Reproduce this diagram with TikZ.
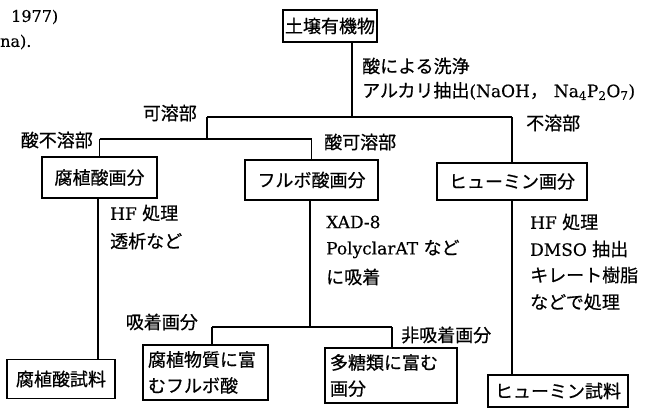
\documentclass[tikz,border=0pt]{standalone}
\usepackage{fontspec}
\setmainfont{DejaVu Serif}[FakeBold=0.4]
\newfontfamily\jp{Noto Sans CJK JP}[FakeBold=0.6]
\newcommand{\jps}{\jp\fontsize{18}{20}\selectfont}
\begin{document}
\begin{tikzpicture}[x=1pt,y=-1pt,
  box/.style={draw, line width=1.1pt, inner sep=2pt, align=left, font=\jp\fontsize{18}{26}\selectfont},
  lbl/.style={inner sep=0pt, anchor=west, font=\fontsize{17}{20}\selectfont},
  lble/.style={inner sep=0pt, anchor=east, font=\fontsize{17}{20}\selectfont},
  ln/.style={line width=1.1pt}]
\useasboundingbox (0,0) rectangle (648,409);
% boxes
\node[box, minimum width=74pt, minimum height=32pt] (top) at (330,26) {土壌有機物};
\node[box, minimum width=115pt, minimum height=41pt] (ha) at (99.5,177.5) {腐植酸画分};
\node[box, minimum width=133pt, minimum height=40pt] (fa) at (311.5,180) {フルボ酸画分};
\node[box, minimum width=150pt, minimum height=37pt] (hu) at (512,181.5) {ヒューミン画分};
\node[box, minimum width=108pt, minimum height=39pt] (has) at (61,379) {腐植酸試料};
\node[box, minimum width=125pt, minimum height=55pt, text width=115pt] (fa1) at (205.5,372.5) {腐植物質に富\\むフルボ酸};
\node[box, minimum width=132pt, minimum height=55pt, text width=122pt] (fa2) at (391,375.5) {多糖類に富む\\画分};
\node[box, minimum width=140pt, minimum height=32pt] (hus) at (558,391) {ヒューミン試料};
% junctions
\coordinate (j1) at (352,117);
\coordinate (jl) at (207,117);
\coordinate (jr) at (512,117);
\coordinate (j2) at (207,139);
\coordinate (j2l) at (99.5,139);
\coordinate (j2r) at (311.5,139);
\coordinate (j3) at (310,327);
\coordinate (j3l) at (212,327);
\coordinate (j3r) at (392,327);
% connectors
\draw[ln] (j1 |- top.south) -- (j1);
\draw[ln] (jl) -- (jr);
\draw[ln] (jr) -- (hu.north);
\draw[ln] (jl) -- (j2);
\draw[ln] (j2l) -- (j2r);
\draw[ln] (j2l) -- (ha.north);
\draw[ln] (j2r) -- (fa.north);
\draw[ln] (ha.south -| 98,0) -- (has.north -| 98,0);
\draw[ln] (fa.south -| j3) -- (j3);
\draw[ln] (j3l) -- (j3r);
\draw[ln] (j3l) -- (j3l |- fa1.north);
\draw[ln] (j3r) -- (j3r |- fa2.north);
\draw[ln] (hu.south) -- (hus.north -| hu.south);
% labels
\node[lbl] (l1) at (362,66) {\jps 酸による洗浄};
\node[lbl] (l2) at (362,91) {{\jps アルカリ抽出}(NaOH{\jps ，}\hspace{6pt}Na\textsubscript{4}P\textsubscript{2}O\textsubscript{7})};
\node[lbl] (l3) at (526,123) {\jps 不溶部};
\node[lble] (l4) at (197,113) {\jps 可溶部};
\node[lble] (l5) at (93,140) {\jps 酸不溶部};
\node[lbl] (l6) at (324,142) {\jps 酸可溶部};
\node[lbl] (l7) at (110,213) {HF {\jps 処理}};
\node[lbl] (l8) at (110,241) {\jps 透析など};
\node[lbl] (l9) at (326,222) {XAD-8};
\node[lbl] (l10) at (326,249) {PolyclarAT {\jps など}};
\node[lbl] (l11) at (326,277) {\jps に吸着};
\node[lbl] (l12) at (530,222) {HF {\jps 処理}};
\node[lbl] (l13) at (530,249) {DMSO {\jps 抽出}};
\node[lbl] (l14) at (530,275) {\jps キレート樹脂};
\node[lbl] (l15) at (530,302) {\jps などで処理};
\node[lble] (l16) at (198,322) {\jps 吸着画分};
\node[lbl] (l17) at (401,335) {\jps 非吸着画分};
\node[lbl, font=\fontsize{16}{18}\selectfont] (t1) at (11,17) {1977)};
\node[lbl, font=\fontsize{16}{18}\selectfont] (t2) at (0,42) {na).};
\end{tikzpicture}
\end{document}
